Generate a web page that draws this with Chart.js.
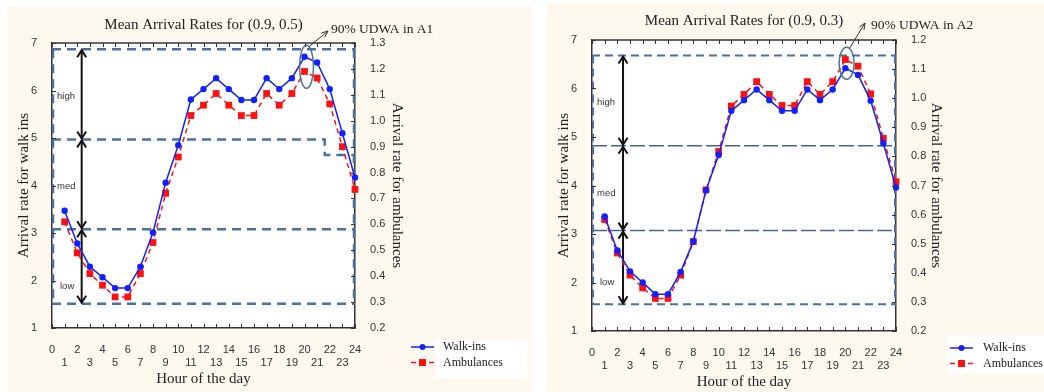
<!DOCTYPE html>
<html>
<head>
<meta charset="utf-8">
<script src="https://cdn.jsdelivr.net/npm/chart.js@4.4.1/dist/chart.umd.min.js"></script>
<style>
  body { margin: 0; width: 1044px; height: 392px; background: #fff; position: relative; overflow: hidden; }
  .panel { position: absolute; background: #fdf9ef; }
</style>
</head>
<body>
<div class="panel" style="left:7px;top:6px;width:525px;height:386px"><canvas id="chartA1" width="525" height="386"></canvas></div>
<div class="panel" style="left:547px;top:3px;width:497px;height:389px"><canvas id="chartA2" width="497" height="389"></canvas></div>
<script>
// hour of day
const hours = [1, 2, 3, 4, 5, 6, 7, 8, 9, 10, 11, 12, 13, 14, 15, 16, 17, 18, 19, 20, 21, 22, 23, 24];

// A1, (0.9, 0.5)
const walkInsA1 = [3.47, 2.78, 2.29, 2.07, 1.84, 1.84, 2.29, 3.01, 4.06, 4.85, 5.81, 6.03, 6.26, 6.03, 5.80, 5.80, 6.26, 6.03, 6.26, 6.71, 6.59, 6.03, 5.10, 4.17];
const ambulancesA1 = [0.61, 0.49, 0.41, 0.365, 0.32, 0.32, 0.41, 0.53, 0.72, 0.86, 1.02, 1.06, 1.105, 1.06, 1.02, 1.02, 1.105, 1.06, 1.105, 1.19, 1.165, 1.065, 0.90, 0.735];
const levelsA1 = [6.87, 4.97, 3.08, 1.51];   // high / med / low band limits
const stepA1 = [21.6, 4.64];                  // med limit drops after this hour

// A2, (0.9, 0.3)
const walkInsA2 = [3.36, 2.66, 2.23, 2.00, 1.76, 1.76, 2.22, 2.85, 3.90, 4.63, 5.54, 5.76, 5.98, 5.76, 5.54, 5.54, 5.98, 5.76, 5.98, 6.42, 6.28, 5.75, 4.87, 3.96];
const ambulancesA2 = [0.583, 0.468, 0.392, 0.348, 0.312, 0.312, 0.392, 0.507, 0.685, 0.817, 0.973, 1.013, 1.057, 1.013, 0.975, 0.975, 1.057, 1.013, 1.057, 1.133, 1.11, 1.015, 0.862, 0.713];
const levelsA2 = [6.68, 4.82, 3.07, 1.55];

const bandNames = ['high', 'med', 'low'];

Chart.defaults.font.family = '"Liberation Sans", Arial, sans-serif';
Chart.defaults.color = '#333';
const SERIF = '"Liberation Serif", "Times New Roman", serif';
const DASH_BLUE = '#4a70a3';

function vHead(ctx, x, y, dir) {
  ctx.beginPath();
  ctx.moveTo(x - 4.5, y - dir * 7);
  ctx.lineTo(x, y);
  ctx.lineTo(x + 4.5, y - dir * 7);
  ctx.stroke();
}

const decor = {
  id: 'decor',
  beforeDraw(chart) {
    const { ctx, chartArea: a } = chart;
    ctx.save();
    ctx.fillStyle = '#fff';
    ctx.fillRect(a.left, a.top, a.right - a.left, a.bottom - a.top);
    ctx.restore();
  },
  beforeDatasetsDraw(chart, args, o) {
    const { ctx, chartArea: a } = chart;
    const x = chart.scales.x, y = chart.scales.y;
    ctx.save();
    // band limit lines
    o.levels.forEach((v, i) => {
      const st = o.lineStyles[i];
      ctx.setLineDash(st.dash);
      ctx.lineWidth = st.width;
      ctx.strokeStyle = st.color;
      const py = y.getPixelForValue(v);
      ctx.beginPath();
      ctx.moveTo(a.left, py);
      if (o.step && i === 1) {
        const sx = x.getPixelForValue(o.step[0]), sy = y.getPixelForValue(o.step[1]);
        ctx.lineTo(sx, py);
        ctx.lineTo(sx, sy);
        ctx.lineTo(a.right, sy);
      } else {
        ctx.lineTo(a.right, py);
      }
      ctx.stroke();
    });
    // dashed sides of the band box
    const st0 = o.lineStyles[0];
    ctx.setLineDash(st0.dash);
    ctx.lineWidth = st0.width;
    ctx.strokeStyle = st0.color;
    const yt = y.getPixelForValue(o.levels[0]), yb = y.getPixelForValue(o.levels[3]);
    [a.left + 1, a.right - 1].forEach(px => {
      ctx.beginPath(); ctx.moveTo(px, yt); ctx.lineTo(px, yb); ctx.stroke();
    });
    // double arrows
    ctx.setLineDash([]);
    ctx.strokeStyle = '#111';
    ctx.lineWidth = 2;
    const ax = x.getPixelForValue(o.arrowX);
    for (let i = 0; i < 3; i++) {
      const p1 = y.getPixelForValue(o.levels[i]), p2 = y.getPixelForValue(o.levels[i + 1]);
      ctx.beginPath(); ctx.moveTo(ax, p1 + 1); ctx.lineTo(ax, p2 - 1); ctx.stroke();
      vHead(ctx, ax, p1 + 1, -1);
      vHead(ctx, ax, p2 - 1, 1);
    }
    // band names
    ctx.fillStyle = '#333';
    ctx.font = '9.5px "Liberation Sans", Arial, sans-serif';
    ctx.textBaseline = 'middle';
    bandNames.forEach((t, i) => {
      ctx.fillText(t, a.left + o.nameDx[i], y.getPixelForValue(o.nameY[i]));
    });
    ctx.restore();
  },
  afterDatasetsDraw(chart, args, o) {
    const { ctx } = chart;
    const x = chart.scales.x, y = chart.scales.y;
    const r = o.ring;
    const cx = x.getPixelForValue(r.x), cy = y.getPixelForValue(r.y);
    ctx.save();
    ctx.strokeStyle = '#4d7191';
    ctx.lineWidth = 1.5;
    ctx.beginPath();
    ctx.ellipse(cx, cy, r.rx, r.ry, 0, 0, Math.PI * 2);
    ctx.stroke();
    // callout arrow
    const c = o.callout;
    const sx = cx + 3, sy = cy - r.ry + 1;
    ctx.strokeStyle = '#333';
    ctx.lineWidth = 1;
    ctx.beginPath(); ctx.moveTo(sx, sy); ctx.lineTo(c.tipX, c.tipY); ctx.stroke();
    const ang = Math.atan2(c.tipY - sy, c.tipX - sx);
    ctx.beginPath();
    ctx.moveTo(c.tipX - 7 * Math.cos(ang - 0.4), c.tipY - 7 * Math.sin(ang - 0.4));
    ctx.lineTo(c.tipX, c.tipY);
    ctx.lineTo(c.tipX - 7 * Math.cos(ang + 0.4), c.tipY - 7 * Math.sin(ang + 0.4));
    ctx.stroke();
    ctx.fillStyle = '#222';
    ctx.font = '13.5px ' + SERIF;
    ctx.textBaseline = 'middle';
    ctx.fillText(c.text, c.x, c.y);
    ctx.restore();
  },
  afterDraw(chart, args, o) {
    const { ctx, chartArea: a } = chart;
    const { x, y, y1 } = chart.scales;
    ctx.save();
    ctx.strokeStyle = '#333';
    ctx.lineWidth = 1.5;
    ctx.beginPath(); ctx.moveTo(a.left, a.top); ctx.lineTo(a.right, a.top); ctx.stroke();
    // inward tick marks
    ctx.lineWidth = 1;
    ctx.beginPath();
    x.ticks.forEach(t => {
      const px = Math.round(x.getPixelForValue(t.value)) + 0.5;
      ctx.moveTo(px, a.top); ctx.lineTo(px, a.top + 4);
      ctx.moveTo(px, a.bottom); ctx.lineTo(px, a.bottom - 4);
    });
    y.ticks.forEach(t => {
      const py = Math.round(y.getPixelForValue(t.value)) + 0.5;
      ctx.moveTo(a.left, py); ctx.lineTo(a.left + 4, py);
    });
    y1.ticks.forEach(t => {
      const py = Math.round(y1.getPixelForValue(t.value)) + 0.5;
      ctx.moveTo(a.right, py); ctx.lineTo(a.right - 4, py);
    });
    ctx.stroke();
    // legend
    const L = o.legend;
    ctx.fillStyle = '#fff';
    ctx.fillRect(L.box[0], L.box[1], L.box[2], L.box[3]);
    chart.data.datasets.forEach((ds, i) => {
      const ly = L.y + i * L.dy;
      ctx.strokeStyle = ds.borderColor;
      ctx.lineWidth = ds.borderWidth;
      ctx.setLineDash(ds.borderDash || []);
      ctx.beginPath(); ctx.moveTo(L.x, ly); ctx.lineTo(L.x + 23, ly); ctx.stroke();
      ctx.setLineDash([]);
      ctx.fillStyle = ds.pointBackgroundColor;
      if (ds.pointStyle === 'rect') {
        ctx.fillRect(L.x + 8, ly - 3.5, 7, 7);
      } else {
        ctx.beginPath(); ctx.arc(L.x + 11.5, ly, 3, 0, Math.PI * 2); ctx.fill();
      }
      ctx.fillStyle = '#222';
      ctx.font = '12px ' + SERIF;
      ctx.textBaseline = 'middle';
      ctx.fillText(ds.label, L.tx, ly);
    });
    ctx.restore();
  }
};

function makeChart(id, walk, amb, y1Max, title, y1Width, padRight, padBottom, titlePad, deco) {
  return new Chart(document.getElementById(id), {
    type: 'line',
    data: {
      datasets: [{
        label: 'Walk-ins',
        data: hours.map((h, i) => ({ x: h, y: walk[i] })),
        yAxisID: 'y',
        borderColor: '#1020ff',
        backgroundColor: '#1020ff',
        pointBackgroundColor: '#1020ff',
        borderWidth: 1.5,
        pointStyle: 'circle',
        pointRadius: 3.2,
        pointBorderWidth: 0,
        tension: 0,
        clip: false
      }, {
        label: 'Ambulances',
        data: hours.map((h, i) => ({ x: h, y: amb[i] })),
        yAxisID: 'y1',
        borderColor: '#ff1010',
        backgroundColor: '#ff1010',
        pointBackgroundColor: '#ff1010',
        borderWidth: 1.5,
        borderDash: [5, 4],
        pointStyle: 'rect',
        pointRadius: 4.8,
        pointBorderWidth: 0,
        tension: 0,
        clip: false
      }]
    },
    options: {
      responsive: false,
      animation: false,
      layout: { padding: { left: 0, top: 0, right: padRight, bottom: padBottom } },
      plugins: {
        legend: { display: false },
        tooltip: { enabled: false },
        title: {
          display: true,
          text: title,
          fullSize: false,
          color: '#222',
          font: { family: SERIF, size: 15, weight: 'normal', lineHeight: 1.2 },
          padding: titlePad
        },
        decor: deco
      },
      scales: {
        x: {
          type: 'linear',
          min: 0,
          max: 24,
          grid: { display: false },
          border: { display: true, color: '#333', width: 1.5 },
          ticks: {
            stepSize: 1,
            autoSkip: false,
            maxRotation: 0,
            padding: 7,
            color: '#333',
            font: { size: 11 },
            callback: v => (v % 2 === 0 ? String(v) : ['', String(v)])
          },
          title: {
            display: true,
            text: 'Hour of the day',
            color: '#222',
            font: { family: SERIF, size: 15, lineHeight: 1.2 },
            padding: { top: 0, bottom: 0 }
          },
          afterFit: s => { s.height = 60; }
        },
        y: {
          position: 'left',
          min: 1,
          max: 7,
          grid: { display: false },
          border: { display: true, color: '#333', width: 1.5 },
          ticks: { stepSize: 1, padding: 7, color: '#333', font: { size: 11 } },
          title: {
            display: true,
            text: 'Arrival rate for walk ins',
            color: '#222',
            font: { family: SERIF, size: 15, lineHeight: 1.2 },
            padding: { top: 8, bottom: 0 }
          },
          afterFit: s => { s.width = 45; }
        },
        y1: {
          position: 'right',
          min: 0.2,
          max: y1Max,
          grid: { display: false },
          border: { display: true, color: '#333', width: 1.5 },
          ticks: { stepSize: 0.1, padding: 7, color: '#333', font: { size: 11 }, callback: v => v.toFixed(1) },
          title: {
            display: true,
            text: 'Arrival rate for ambulances',
            color: '#222',
            font: { family: SERIF, size: 15, lineHeight: 1.2 },
            padding: { top: 0, bottom: 0 }
          },
          afterFit: s => { s.width = y1Width; }
        }
      }
    },
    plugins: [decor]
  });
}

const thick = { width: 2.5, dash: [9, 6], color: DASH_BLUE };

//eslint-disable-next-line
const chartA1 = makeChart('chartA1', walkInsA1, ambulancesA1, 1.3, 'Mean Arrival Rates for (0.9, 0.5)', 51, 126, 4,
  { top: 10, bottom: 9 },
  {
    levels: levelsA1,
    step: stepA1,
    lineStyles: [thick, thick, thick, thick],
    arrowX: 2.35,
    nameDx: [5, 5, 8],
    nameY: [5.87, 3.99, 1.87],
    ring: { x: 20.16, y: 6.5, rx: 7, ry: 21.5 },
    callout: { text: '90% UDWA in A1', x: 324, y: 23, tipX: 321, tipY: 25 },
    legend: { box: [429, 334, 91, 38], x: 404, y: 341, dy: 15.5, tx: 436 }
  });

const thin = { width: 1.5, dash: [15, 4], color: '#46668c' };
const mid = { width: 2, dash: [8, 5], color: DASH_BLUE };

//eslint-disable-next-line
const chartA2 = makeChart('chartA2', walkInsA2, ambulancesA2, 1.2, 'Mean Arrival Rates for (0.9, 0.3)', 49, 99, 1,
  { top: 9, bottom: 10 },
  {
    levels: levelsA2,
    step: null,
    lineStyles: [mid, thin, thin, mid],
    arrowX: 2.45,
    nameDx: [5, 5, 8],
    nameY: [5.71, 3.84, 2.0],
    ring: { x: 20.1, y: 6.52, rx: 7.5, ry: 16 },
    callout: { text: '90% UDWA in A2', x: 324, y: 22, tipX: 318, tipY: 20 },
    legend: { box: [401, 332, 96, 38], x: 403, y: 345, dy: 15.5, tx: 436 }
  });
</script>
</body>
</html>
